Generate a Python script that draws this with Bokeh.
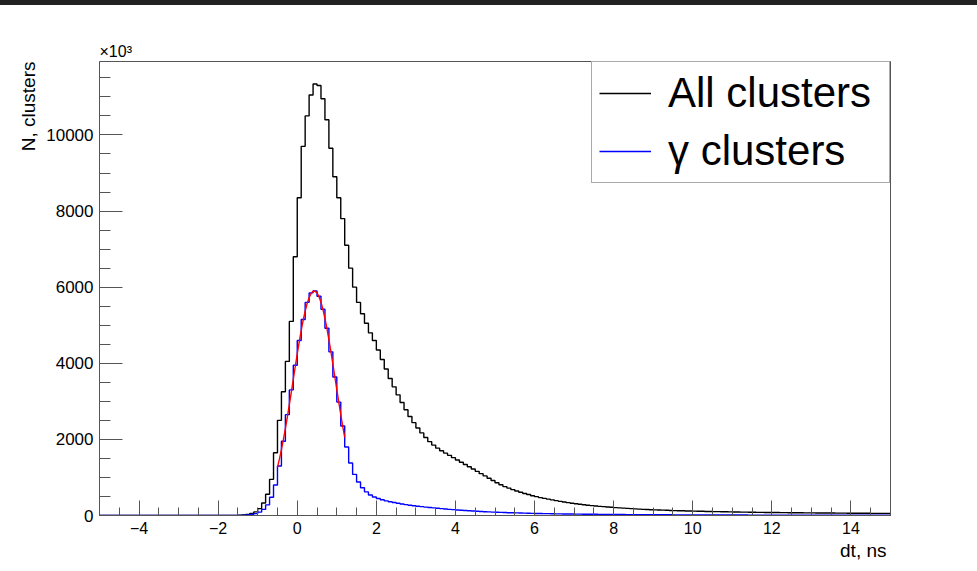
import numpy as np
from bokeh.plotting import figure
from bokeh.models import (Legend, LegendItem, SingleIntervalTicker,
                          CustomJSTickFormatter, Title, Div, Range1d)
from bokeh.layouts import column
from bokeh.embed import file_html
from bokeh.resources import INLINE

# ---------------- data ----------------
bin_low = -5.0
bin_width = 0.1

# "All clusters" histogram, 200 bins of 0.1 ns from -5 to 15
all_counts = [
    0, 0, 0, 0, 0, 0, 0, 0, 0, 0,
    0, 0, 0, 0, 0, 0, 0, 0, 0, 0,
    0, 0, 0, 0, 0, 0, 0, 0, 0, 0,
    0, 0, 0, 0, 0,
    5, 15, 30, 55, 95,
    180, 330, 560, 950, 1650, 2500, 3250, 4050, 5100, 6800,
    8350, 9700, 10500, 11050, 11340, 11300, 10950, 10400, 9650, 8900,
    8350, 7800, 7100, 6500, 6000, 5600, 5300, 5050, 4800, 4600,
    4350, 4100, 3850, 3600, 3380, 3170, 2970, 2780, 2600, 2440,
    2300, 2170, 2050, 1940, 1850, 1770, 1700, 1640, 1580, 1520,
    1460, 1400, 1340, 1280, 1220, 1160, 1100, 1040, 980, 920,
    860, 810, 760, 720, 680, 645, 610, 580, 550, 520,
    495, 470, 450, 430, 410, 390, 372, 355, 338, 323,
    308, 295, 282, 270, 260, 250, 241, 232, 223, 215,
    208, 201, 194, 187, 180, 174, 168, 162, 157, 152,
    148, 144, 140, 136, 132, 129, 126, 123, 120, 118,
    115, 112, 110, 107, 105, 103, 101, 99, 97, 95,
    93, 91, 89, 88, 86, 85, 83, 82, 80, 79,
    78, 77, 76, 75, 74, 73, 72, 71, 70, 69,
    68, 67, 66, 65, 65, 64, 63, 62, 62, 61,
    60, 60, 59, 58, 58, 57, 57, 56, 56, 55,
]

# "gamma clusters" histogram, same binning
gamma_counts = [
    0, 0, 0, 0, 0, 0, 0, 0, 0, 0,
    0, 0, 0, 0, 0, 0, 0, 0, 0, 0,
    0, 0, 0, 0, 0, 0, 0, 0, 0, 0,
    0, 0, 0, 0, 0,
    2, 5, 12, 25, 50,
    90, 160, 280, 480, 800, 1300, 1950, 2650, 3300, 3950,
    4600, 5150, 5600, 5850, 5900, 5760, 5420, 4920, 4300, 3640,
    2980, 2350, 1800, 1380, 1080, 880, 730, 620, 540, 485,
    445, 412, 385, 360, 340, 320, 302, 285, 270, 256,
    244, 232, 221, 210, 200, 190, 180, 171, 162, 154,
    146, 138, 131, 124, 117, 111, 105, 100, 95, 90,
    86, 82, 78, 74, 71, 68, 65, 62, 59, 57,
    54, 52, 50, 48, 46, 44, 42, 41, 39, 38,
    36, 35, 34, 33, 32, 31, 30, 29, 28, 27,
    26, 25, 25, 24, 23, 23, 22, 21, 21, 20,
    20, 19, 19, 18, 18, 17, 17, 17, 16, 16,
    15, 15, 15, 14, 14, 14, 13, 13, 13, 13,
    12, 12, 12, 12, 11, 11, 11, 11, 11, 10,
    10, 10, 10, 10, 9, 9, 9, 9, 9, 9,
    8, 8, 8, 8, 8, 8, 7, 7, 7, 7,
    7, 7, 7, 6, 6, 6, 6, 6, 6, 6,
]

# red fit curve over the gamma peak
fit_t = [-0.50, -0.45, -0.40, -0.35, -0.30, -0.25, -0.20, -0.15, -0.10, -0.05,
         0.00, 0.05, 0.10, 0.15, 0.20, 0.25, 0.30, 0.35, 0.40, 0.45,
         0.50, 0.55, 0.60, 0.65, 0.70, 0.75, 0.80, 0.85, 0.90, 0.95,
         1.00, 1.05, 1.10, 1.15, 1.20]
fit_counts = [1264, 1487, 1731, 1998, 2285, 2591, 2911, 3242, 3579, 3915,
              4246, 4563, 4860, 5131, 5370, 5570, 5725, 5833, 5891, 5896,
              5849, 5751, 5604, 5413, 5182, 4917, 4624, 4310, 3982, 3646,
              3309, 2977, 2654, 2345, 2053]

x_min, x_max = -5, 15
y_min, y_max = 0, 11930
legend_labels = ["All clusters", "\u03b3 clusters"]
x_title = "dt, ns"
y_title = "N, clusters"
y_multiplier = "\u00d710\u00b3"

# ---------------- plot ----------------
FONT = "Liberation Sans"
AXIS_COL = "#555555"

n_bins = len(all_counts)
edges = np.round(bin_low + bin_width * np.arange(n_bins + 1), 4)
all_y = list(all_counts) + [all_counts[-1]]
gam_y = list(gamma_counts) + [gamma_counts[-1]]

p = figure(width=977, height=566, output_backend="svg", toolbar_location=None,
           x_range=Range1d(x_min, x_max), y_range=Range1d(y_min, y_max),
           min_border_left=99, min_border_right=87,
           min_border_top=56, min_border_bottom=56,
           title=y_multiplier)
p.background_fill_color = "white"
p.border_fill_color = "white"
p.outline_line_color = AXIS_COL
p.outline_line_width = 1
p.grid.visible = False

p.title.align = "left"
p.title.text_font = FONT
p.title.text_font_size = "16px"
p.title.text_font_style = "normal"
p.title.text_color = "black"
p.title.standoff = 4

r_all = p.step(edges, all_y, mode="after", line_color="black", line_width=1.4)
r_gam = p.step(edges, gam_y, mode="after", line_color="#0000ff", line_width=1.4)
p.line(fit_t, fit_counts, line_color="#ff0000", line_width=1.4)

for ax in (p.xaxis[0], p.yaxis[0]):
    ax.axis_line_color = AXIS_COL
    ax.major_tick_line_color = AXIS_COL
    ax.minor_tick_line_color = AXIS_COL
    ax.major_tick_out = 0
    ax.minor_tick_out = 0
    ax.major_label_text_font = FONT
    ax.major_label_text_color = "black"

p.xaxis.ticker = SingleIntervalTicker(interval=2, num_minor_ticks=4)
p.xaxis.major_tick_in = 15
p.xaxis.minor_tick_in = 8
p.xaxis.major_label_text_font_size = "16px"
p.xaxis.major_label_standoff = 6
p.xaxis.formatter = CustomJSTickFormatter(
    code="return tick < 0 ? '\\u2212' + Math.abs(tick) : tick.toString();")

p.yaxis.ticker = SingleIntervalTicker(interval=2000, num_minor_ticks=4)
p.yaxis.major_tick_in = 23
p.yaxis.minor_tick_in = 11
p.yaxis.major_label_text_font_size = "17px"
p.yaxis.major_label_standoff = 6

p.add_layout(Title(text=x_title, align="right", text_font=FONT,
                   text_font_size="19px", text_font_style="normal",
                   text_color="black", standoff=2, offset=4), "below")
p.add_layout(Title(text=y_title, align="right", vertical_align="top",
                   text_font=FONT, text_font_size="19px",
                   text_font_style="normal", text_color="black",
                   standoff=5), "left")

legend = Legend(items=[LegendItem(label=legend_labels[0], renderers=[r_all]),
                       LegendItem(label=legend_labels[1], renderers=[r_gam])],
                location="top_right", margin=0, padding=7, spacing=10,
                glyph_width=52, glyph_height=48, label_height=48,
                label_width=214, label_standoff=17,
                label_text_font=FONT, label_text_font_size="42px",
                label_text_color="black",
                border_line_color=AXIS_COL, border_line_width=1,
                background_fill_color="white", background_fill_alpha=1.0)
p.add_layout(legend)

top_bar = Div(width=977, height=5, margin=0,
              styles={"background-color": "#222222"})
layout = column(top_bar, p, spacing=0)

open("out.html", "w").write(file_html(layout, INLINE))
